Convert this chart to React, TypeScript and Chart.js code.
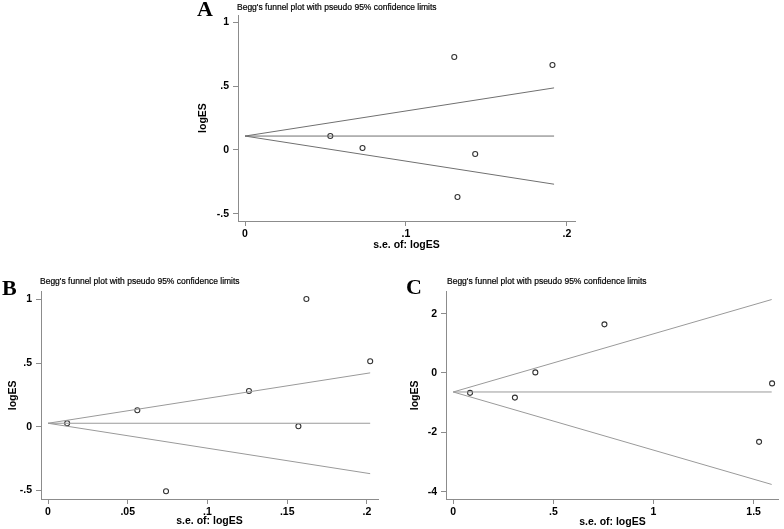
import React, { useEffect, useRef } from 'react';
import { Chart, registerables } from 'chart.js';

Chart.register(...registerables);

const SANS = "'Liberation Sans', Arial, Helvetica, sans-serif";
const SERIF = "'Liberation Serif', 'Times New Roman', serif";
const PLOT_TITLE = "Begg's funnel plot with pseudo 95% confidence limits";
const X_TITLE = 's.e. of: logES';
const Y_TITLE = 'logES';

// ---- Panel A data ----
const seA = [0.053, 0.073, 0.130, 0.132, 0.143, 0.191];
const esA = [0.109, 0.016, 0.727, -0.367, -0.031, 0.664];
const pooledA = 0.109;
const seMaxA = 0.192;
const xTicksA = [0, 0.1, 0.2];
const yTicksA = [-0.5, 0, 0.5, 1];

// ---- Panel B data ----
const seB = [0.012, 0.056, 0.074, 0.126, 0.157, 0.162, 0.202];
const esB = [0.027, 0.129, -0.507, 0.28, 0.003, 1.003, 0.514];
const pooledB = 0.027;
const seMaxB = 0.202;
const xTicksB = [0, 0.05, 0.1, 0.15, 0.2];
const yTicksB = [-0.5, 0, 0.5, 1];

// ---- Panel C data ----
const seC = [0.084, 0.308, 0.41, 0.755, 1.527, 1.592];
const esC = [-0.67, -0.83, 0.02, 1.64, -2.32, -0.35];
const pooledC = -0.64;
const seMaxC = 1.59;
const xTicksC = [0, 0.5, 1, 1.5];
const yTicksC = [-4, -2, 0, 2];

const Z95 = 1.96;
const W = 784;
const H = 529;

function fmt(v: number): string {
  const r = Math.round(v * 1000) / 1000;
  let s = String(r);
  s = s.replace(/^0\./, '.').replace(/^-0\./, '-.');
  return s;
}

type PanelCfg = {
  se: number[];
  es: number[];
  pooled: number;
  seMax: number;
  xTicks: number[];
  yTicks: number[];
  xMin: number;
  xMax: number;
  yMin: number;
  yMax: number;
  area: { L: number; R: number; T: number; B: number };
  yTitleX: number;
  xTitleY: number;
  lineColor: string;
};

function FunnelChart({ cfg }: { cfg: PanelCfg }) {
  const ref = useRef<HTMLCanvasElement>(null);
  useEffect(() => {
    const canvas = ref.current;
    if (!canvas) return;
    const titleSize = 10.5;
    const half = (titleSize * 1.2) / 2;
    const padLeft = cfg.yTitleX - half;
    const yW = cfg.area.L - padLeft;
    const xBottom = cfg.xTitleY + half;
    const xH = xBottom - cfg.area.B;
    const padBottom = H - xBottom;
    const padRight = W - cfg.area.R;
    const padTop = cfg.area.T;
    const axisColor = '#8c8c8c';
    const tickFont = { family: SANS, size: 10.5, weight: 'bold' };
    const titleFont = { family: SANS, size: titleSize, weight: 'bold' };

    const chart = new Chart(canvas, {
      type: 'scatter',
      data: {
        datasets: [
          {
            data: [
              { x: 0, y: cfg.pooled },
              { x: cfg.seMax, y: cfg.pooled },
            ],
            showLine: true,
            pointRadius: 0,
            borderColor: cfg.lineColor,
            borderWidth: 1,
          },
          {
            data: [
              { x: 0, y: cfg.pooled },
              { x: cfg.seMax, y: cfg.pooled + Z95 * cfg.seMax },
            ],
            showLine: true,
            pointRadius: 0,
            borderColor: cfg.lineColor,
            borderWidth: 1,
          },
          {
            data: [
              { x: 0, y: cfg.pooled },
              { x: cfg.seMax, y: cfg.pooled - Z95 * cfg.seMax },
            ],
            showLine: true,
            pointRadius: 0,
            borderColor: cfg.lineColor,
            borderWidth: 1,
          },
          {
            data: cfg.se.map((s, i) => ({ x: s, y: cfg.es[i] })),
            showLine: false,
            pointRadius: 2.5,
            pointBorderWidth: 1.1,
            pointBorderColor: '#333',
            pointBackgroundColor: 'rgba(255,255,255,0)',
          },
        ],
      },
      options: {
        responsive: false,
        animation: false,
        events: [],
        layout: {
          padding: { left: padLeft, right: padRight, top: padTop, bottom: padBottom },
        },
        plugins: {
          legend: { display: false },
          tooltip: { enabled: false },
          title: { display: false },
        },
        scales: {
          x: {
            type: 'linear',
            min: cfg.xMin,
            max: cfg.xMax,
            afterBuildTicks: (s: any) => {
              s.ticks = cfg.xTicks.map((v) => ({ value: v }));
            },
            afterFit: (s: any) => {
              s.height = xH;
            },
            ticks: {
              callback: (v: any) => fmt(Number(v)),
              font: tickFont,
              color: '#000',
              padding: 2,
              maxRotation: 0,
              autoSkip: false,
            },
            grid: {
              display: true,
              drawOnChartArea: false,
              drawTicks: true,
              tickLength: 5,
              color: axisColor,
            },
            border: { display: true, color: axisColor, width: 1 },
            title: {
              display: true,
              text: X_TITLE,
              font: titleFont,
              color: '#000',
              padding: 0,
            },
          },
          y: {
            type: 'linear',
            min: cfg.yMin,
            max: cfg.yMax,
            afterBuildTicks: (s: any) => {
              s.ticks = cfg.yTicks.map((v) => ({ value: v }));
            },
            afterFit: (s: any) => {
              s.width = yW;
            },
            ticks: {
              callback: (v: any) => fmt(Number(v)),
              font: tickFont,
              color: '#000',
              padding: 4,
              autoSkip: false,
            },
            grid: {
              display: true,
              drawOnChartArea: false,
              drawTicks: true,
              tickLength: 5,
              color: axisColor,
            },
            border: { display: true, color: axisColor, width: 1 },
            title: {
              display: true,
              text: Y_TITLE,
              font: titleFont,
              color: '#000',
              padding: 0,
            },
          },
        },
      },
    } as any);
    return () => chart.destroy();
  }, [cfg]);
  return (
    <canvas
      ref={ref}
      width={W}
      height={H}
      style={{ position: 'absolute', left: 0, top: 0, width: W, height: H }}
    />
  );
}

const cfgA: PanelCfg = {
  se: seA,
  es: esA,
  pooled: pooledA,
  seMax: seMaxA,
  xTicks: xTicksA,
  yTicks: yTicksA,
  xMin: -0.00435,
  xMax: 0.205,
  yMin: -0.5547,
  yMax: 1.0547,
  area: { L: 238, R: 575, T: 15, B: 221 },
  yTitleX: 203,
  xTitleY: 245,
  lineColor: '#707070',
};

const cfgB: PanelCfg = {
  se: seB,
  es: esB,
  pooled: pooledB,
  seMax: seMaxB,
  xTicks: xTicksB,
  yTicks: yTicksB,
  xMin: -0.00439,
  xMax: 0.2069,
  yMin: -0.568,
  yMax: 1.0605,
  area: { L: 41, R: 378, T: 291.7, B: 499 },
  yTitleX: 13,
  xTitleY: 521,
  lineColor: '#9a9a9a',
};

const cfgC: PanelCfg = {
  se: seC,
  es: esC,
  pooled: pooledC,
  seMax: seMaxC,
  xTicks: xTicksC,
  yTicks: yTicksC,
  xMin: -0.036,
  xMax: 1.626,
  yMin: -4.247,
  yMax: 2.74,
  area: { L: 446, R: 783, T: 291.7, B: 499 },
  yTitleX: 415,
  xTitleY: 521.7,
  lineColor: '#9a9a9a',
};

const titleStyle = (left: number, top: number): React.CSSProperties => ({
  position: 'absolute',
  left,
  top,
  fontFamily: SANS,
  fontSize: 8.5,
  lineHeight: '8.5px',
  color: '#000',
  whiteSpace: 'nowrap',
  WebkitTextStroke: '0.2px #000',
});

const letterStyle = (left: number, top: number): React.CSSProperties => ({
  position: 'absolute',
  left,
  top,
  fontFamily: SERIF,
  fontWeight: 'bold',
  fontSize: 22,
  lineHeight: '22px',
  color: '#000',
});

export default function App() {
  return (
    <div
      style={{
        position: 'fixed',
        left: 0,
        top: 0,
        width: W,
        height: H,
        background: '#fff',
        overflow: 'hidden',
      }}
    >
      <FunnelChart cfg={cfgA} />
      <FunnelChart cfg={cfgB} />
      <FunnelChart cfg={cfgC} />
      <div style={letterStyle(197, -1.8)}>A</div>
      <div style={letterStyle(2, 277.2)}>B</div>
      <div style={letterStyle(406, 276.2)}>C</div>
      <div style={titleStyle(237, 2.8)}>{PLOT_TITLE}</div>
      <div style={titleStyle(40, 276.8)}>{PLOT_TITLE}</div>
      <div style={titleStyle(447, 276.8)}>{PLOT_TITLE}</div>
    </div>
  );
}
